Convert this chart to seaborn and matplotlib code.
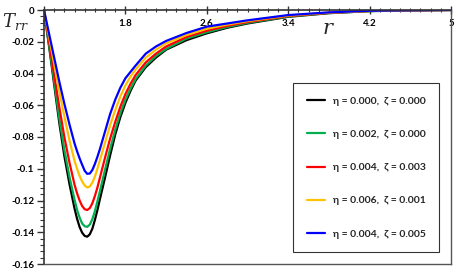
import numpy as np
import pandas as pd
import matplotlib
matplotlib.use("Agg")
import matplotlib.pyplot as plt
import seaborn as sns
from matplotlib.ticker import MultipleLocator

# radial positions
r = [1.00, 1.05, 1.10, 1.15, 1.20, 1.25, 1.30, 1.325, 1.35, 1.375, 1.40, 1.425,
     1.45, 1.475, 1.50, 1.525, 1.55, 1.60, 1.65, 1.70, 1.75, 1.80, 1.85, 1.90,
     2.00, 2.10, 2.20, 2.40, 2.60, 2.80, 3.00, 3.40, 3.80, 4.20, 4.60, 5.00]

# T_rr values for each (eta, zeta) pair
t_black = [0, -0.023, -0.047, -0.071, -0.092, -0.1095, -0.125, -0.1315, -0.1367, -0.1403,
           -0.1423, -0.1428, -0.1413, -0.1378, -0.1323, -0.126, -0.119, -0.1055, -0.0915,
           -0.0785, -0.0675, -0.0585, -0.051, -0.0445, -0.036, -0.030, -0.025, -0.019,
           -0.0147, -0.0112, -0.0085, -0.0043, -0.0020, -0.0007, -0.0002, 0]
t_green = [0, -0.022, -0.045, -0.068, -0.088, -0.105, -0.1195, -0.1258, -0.1308, -0.1345,
           -0.1362, -0.1366, -0.1352, -0.1318, -0.1268, -0.1205, -0.114, -0.1005, -0.0875,
           -0.0755, -0.065, -0.0565, -0.0495, -0.0435, -0.035, -0.029, -0.0245, -0.018,
           -0.014, -0.0107, -0.0081, -0.0041, -0.0019, -0.0007, -0.0002, 0]
t_red = [0, -0.020, -0.041, -0.061, -0.080, -0.096, -0.110, -0.1155, -0.120, -0.1235,
         -0.1255, -0.126, -0.1248, -0.1218, -0.1172, -0.1118, -0.1055, -0.093, -0.081,
         -0.0705, -0.061, -0.053, -0.0465, -0.041, -0.033, -0.0275, -0.023, -0.017,
         -0.013, -0.0100, -0.0076, -0.0038, -0.0018, -0.0006, -0.0002, 0]
t_yellow = [0, -0.017, -0.034, -0.051, -0.067, -0.082, -0.095, -0.100, -0.1045, -0.108,
            -0.1105, -0.1118, -0.1112, -0.1088, -0.105, -0.100, -0.0945, -0.0835, -0.0725,
            -0.063, -0.0545, -0.0475, -0.042, -0.0375, -0.030, -0.025, -0.021, -0.0158,
            -0.0118, -0.0092, -0.0070, -0.0035, -0.0016, -0.0006, -0.0002, 0]
t_blue = [0, -0.015, -0.030, -0.045, -0.059, -0.072, -0.084, -0.089, -0.0935, -0.0975,
          -0.1013, -0.1032, -0.1030, -0.1008, -0.097, -0.0925, -0.0875, -0.0765, -0.0655,
          -0.0565, -0.049, -0.043, -0.039, -0.035, -0.0275, -0.023, -0.0195, -0.0145,
          -0.0105, -0.0085, -0.0065, -0.0032, -0.0015, -0.0005, -0.0002, 0]

labels = ["η = 0.000,  ζ = 0.000", "η = 0.002,  ζ = 0.000", "η = 0.004,  ζ = 0.003",
          "η = 0.006,  ζ = 0.001", "η = 0.004,  ζ = 0.005"]
colors = ["#000000", "#00B050", "#FF0000", "#FFC000", "#0000FF"]

xticks = [1, 1.8, 2.6, 3.4, 4.2, 5]
xtick_labels = ["1", "1.8", "2.6", "3.4", "4.2", "5"]
yticks = [0, -0.02, -0.04, -0.06, -0.08, -0.1, -0.12, -0.14, -0.16]
ytick_labels = ["0", "-0.02", "-0.04", "-0.06", "-0.08", "-0.1", "-0.12", "-0.14", "-0.16"]

series = [t_black, t_green, t_red, t_yellow, t_blue]
df = pd.concat([pd.DataFrame({"r": r, "T": s, "case": lab}) for s, lab in zip(series, labels)])

sns.set_style("white")
plt.rcParams["font.family"] = ["Lato", "DejaVu Sans"]
plt.rcParams["mathtext.fontset"] = "dejavuserif"

fig = plt.figure(figsize=(4.62, 2.76), dpi=100)
ax = fig.add_axes([44 / 462, 1 - 264 / 276, 407 / 462, 254 / 276])

sns.lineplot(data=df, x="r", y="T", hue="case", palette=dict(zip(labels, colors)),
             sort=False, estimator=None, linewidth=1.6, ax=ax)

ax.set_xlim(1, 5)
ax.set_ylim(-0.16, 0)
ax.set_xlabel("")
ax.set_ylabel("")

# x axis sits on the top edge, labels drawn just under it
ax.set_xticks(xticks)
ax.set_xticklabels(xtick_labels, fontsize=7, fontweight="bold")
ax.xaxis.set_minor_locator(MultipleLocator(0.1))
ax.tick_params(axis="x", which="both", top=True, bottom=False, labeltop=True,
               labelbottom=False, direction="inout", pad=-16, colors="#333333")
ax.tick_params(axis="x", which="major", length=6, width=1)
ax.tick_params(axis="x", which="minor", length=3, width=0.8)

ax.set_yticks(yticks)
ax.set_yticklabels(ytick_labels, fontsize=7, fontweight="bold")
ax.yaxis.set_minor_locator(MultipleLocator(0.004))
ax.tick_params(axis="y", which="both", left=True, direction="out", pad=2, colors="#333333")
ax.tick_params(axis="y", which="major", length=5, width=1)
ax.tick_params(axis="y", which="minor", length=3, width=0.8)
for lab in ax.get_xticklabels() + ax.get_yticklabels():
    lab.set_color("black")

for side in ["left", "top"]:
    ax.spines[side].set_color("#333333")
    ax.spines[side].set_linewidth(1.2)
for side in ["right", "bottom"]:
    ax.spines[side].set_color("#555555")
    ax.spines[side].set_linewidth(1)

fig.text(15 / 462, 1 - 22 / 276, r"$T_{rr}$", fontsize=13, ha="center", va="center")
ax.text(0.698, 0.929, r"$r$", fontsize=15, ha="center", va="center", transform=ax.transAxes)

leg = ax.legend(loc="upper left", bbox_to_anchor=(0.612, 0.713), borderaxespad=0,
                prop={"weight": "bold", "size": 7.5}, frameon=True, fancybox=False,
                edgecolor="black", labelspacing=2.3, borderpad=1.3,
                handlelength=1.8, handletextpad=0.7)
leg.get_frame().set_linewidth(0.8)

fig.savefig("out.png", dpi=100)
